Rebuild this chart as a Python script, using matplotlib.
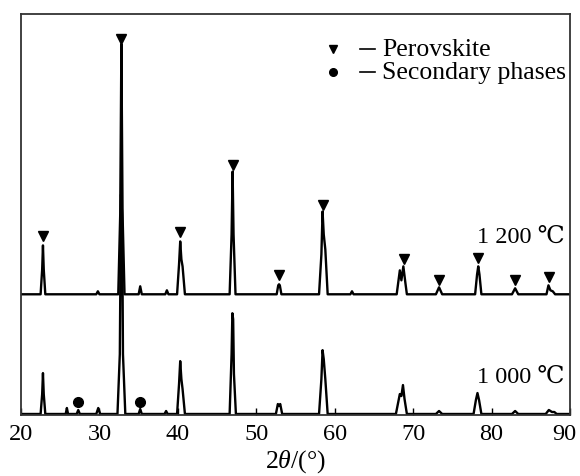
import numpy as np
import matplotlib
matplotlib.use('Agg')
import matplotlib.pyplot as plt
import matplotlib.transforms as mtransforms

plt.rcParams['font.family'] = ['Liberation Serif', 'DejaVu Serif']
plt.rcParams['mathtext.fontset'] = 'custom'
plt.rcParams['mathtext.rm'] = 'Liberation Serif'
plt.rcParams['mathtext.it'] = 'Liberation Serif:italic'

# 1 000 C pattern, vertices (2theta, intensity a.u.)
tt_1000 = [20.0,
           22.5, 22.7, 22.8, 22.9, 23.1,
           25.7, 25.85, 26.0,
           27.1, 27.3, 27.5,
           29.6, 29.85, 30.1,
           32.3, 32.6, 32.75, 32.9, 33.0, 33.3,
           35.0, 35.2, 35.4,
           38.3, 38.5, 38.7,
           39.9, 40.15, 40.3, 40.45, 40.6, 40.9,
           46.6, 46.85, 46.95, 47.05, 47.15, 47.4,
           52.5, 52.75, 52.9, 53.05, 53.3,
           58.0, 58.3, 58.45, 58.6, 58.8, 59.1,
           67.8, 68.1, 68.3, 68.5, 68.7, 68.9, 69.2,
           72.9, 73.3, 73.7,
           77.7, 78.0, 78.2, 78.4, 78.7,
           82.6, 83.0, 83.4,
           86.9, 87.3, 87.7, 88.0, 88.3,
           90.0]
I_1000 = [0,
          0, 20, 41, 20, 0,
          0, 6, 0,
          0, 4, 0,
          0, 6, 0,
          0, 60, 220, 200, 60, 0,
          0, 5, 0,
          0, 3, 0,
          0, 30, 53, 35, 25, 0,
          0, 60, 101, 95, 40, 0,
          0, 10, 8, 10, 0,
          0, 35, 64, 55, 35, 0,
          0, 12, 20, 18, 29, 15, 0,
          0, 3, 0,
          0, 14, 21, 14, 0,
          0, 3, 0,
          0, 4, 2, 2, 0,
          0]

# 1 200 C pattern
tt_1200 = [20.0,
           22.5, 22.7, 22.8, 22.9, 23.1,
           29.6, 29.8, 30.0,
           32.4, 32.65, 32.8, 32.95, 33.2,
           35.0, 35.2, 35.4,
           38.4, 38.6, 38.8,
           39.9, 40.15, 40.3, 40.45, 40.6, 40.9,
           46.6, 46.85, 46.98, 47.1, 47.35,
           52.6, 52.8, 52.9, 53.0, 53.2,
           58.0, 58.3, 58.45, 58.6, 58.8, 59.1,
           62.0, 62.2, 62.4,
           67.9, 68.1, 68.3, 68.5, 68.75, 69.0, 69.2,
           72.9, 73.3, 73.7,
           77.9, 78.15, 78.3, 78.45, 78.7,
           82.6, 83.0, 83.4,
           87.0, 87.25, 87.5, 87.8, 88.1,
           90.0]
I_1200 = [0,
          0, 25, 49, 25, 0,
          0, 3, 0,
          0, 80, 251, 80, 0,
          0, 8, 0,
          0, 4, 0,
          0, 30, 53, 35, 28, 0,
          0, 60, 123, 60, 0,
          0, 9, 10, 9, 0,
          0, 40, 83, 60, 45, 0,
          0, 3, 0,
          0, 12, 24, 14, 28, 12, 0,
          0, 7, 0,
          0, 20, 28, 20, 0,
          0, 6, 0,
          0, 9, 4, 3, 0,
          0]

# phase markers
perov_tt = [22.8, 32.8, 40.3, 47.0, 52.9, 58.5, 68.8, 73.3, 78.3, 83.0, 87.3]
perov_y = [178, 376, 182, 250, 139, 210, 155, 134, 156, 134, 137]
second_tt = [27.3, 35.2]
second_y = [12, 12]

xticks = [20, 30, 40, 50, 60, 70, 80, 90]
offset = 120

fig = plt.figure(figsize=(5.8, 4.77), dpi=100)
ax = fig.add_axes([0.0362, 0.1279, 0.9466, 0.8407])

ax.plot(tt_1000, I_1000, color='black', lw=1.7)
ax.plot(tt_1200, np.array(I_1200) + offset, color='black', lw=1.7)
ax.plot(perov_tt, perov_y, 'v', color='black', ms=7.5, ls='none')
ax.plot(second_tt, second_y, 'o', color='black', ms=7, ls='none')

ax.set_xlim(20, 90)
ax.set_ylim(-1, 401)
ax.set_xticks(xticks)
ax.set_yticks([])
ax.tick_params(axis='x', direction='in', length=5, width=1, pad=6,
               labelsize=17.5, colors='black')
for s in ax.spines.values():
    s.set_color('#333333')
    s.set_linewidth(1.3)

# pull the "90" label in a little so it stays inside the figure
last = ax.get_xticklabels()[-1]
last.set_transform(last.get_transform() +
                   mtransforms.ScaledTranslation(-4 / 72, 0, fig.dpi_scale_trans))

ax.set_xlabel(r'$2\theta$/(°)', fontsize=18.5, labelpad=2)

# legend drawn by hand
ax.plot([59.8], [366], 'v', color='black', ms=5.5)
ax.plot([59.8], [343], 'o', color='black', ms=5.5)
ax.plot([63.2, 65.1], [366, 366], color='black', lw=1.2)
ax.plot([63.2, 65.1], [343, 343], color='black', lw=1.2)
ax.text(66.0, 366, 'Perovskite', fontsize=18.5, va='center', ha='left')
ax.text(66.0, 343, 'Secondary phases', fontsize=18.5, va='center', ha='left')

ax.text(89.3, 178, '1 200 ℃', fontsize=17.5, ha='right', va='center')
ax.text(89.3, 38, '1 000 ℃', fontsize=17.5, ha='right', va='center')

fig.savefig('out.png', dpi=100)
